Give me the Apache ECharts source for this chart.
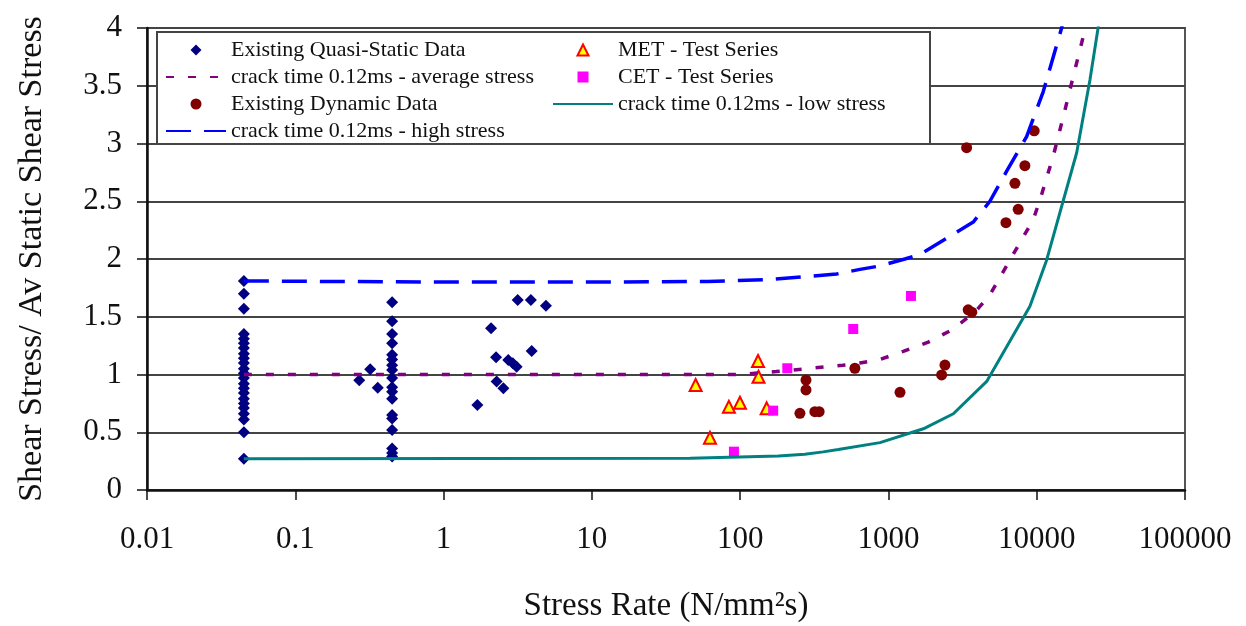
<!DOCTYPE html>
<html>
<head>
<meta charset="utf-8">
<title>Shear stress vs stress rate</title>
<script src="https://cdn.jsdelivr.net/npm/echarts@6/dist/echarts.min.js"></script>
<style>
  html, body { margin: 0; padding: 0; background: #fff; }
  #chart { width: 1246px; height: 626px; }
</style>
</head>
<body>
<div id="chart"></div>
<script>
// Stress rate (N/mm²s) vs normalised shear stress
const xTickLabels = ['0.01', '0.1', '1', '10', '100', '1000', '10000', '100000'];
const yTicks = [0, 0.5, 1, 1.5, 2, 2.5, 3, 3.5, 4];

const quasiStatic = [
  [0.045, 1.81], [0.045, 1.70], [0.045, 1.57], [0.045, 1.35], [0.045, 1.31],
  [0.045, 1.27], [0.045, 1.23], [0.045, 1.18], [0.045, 1.14], [0.045, 1.10],
  [0.045, 1.05], [0.045, 1.01], [0.045, 0.97], [0.045, 0.92], [0.045, 0.88],
  [0.045, 0.84], [0.045, 0.79], [0.045, 0.75], [0.045, 0.71], [0.045, 0.66],
  [0.045, 0.61], [0.045, 0.50], [0.045, 0.27],
  [0.45, 1.625], [0.45, 1.46], [0.45, 1.35], [0.45, 1.27], [0.45, 1.17],
  [0.45, 1.13], [0.45, 1.08], [0.45, 1.04], [0.45, 0.97], [0.45, 0.89],
  [0.45, 0.85], [0.45, 0.79], [0.45, 0.65], [0.45, 0.62], [0.45, 0.52],
  [0.45, 0.36], [0.45, 0.32], [0.45, 0.29],
  [0.27, 0.95], [0.32, 1.045], [0.36, 0.886],
  [1.69, 0.736], [2.09, 1.40], [2.26, 1.149], [2.28, 0.94], [2.53, 0.88],
  [2.73, 1.125], [2.93, 1.097], [3.11, 1.068], [3.16, 1.645], [3.88, 1.645],
  [3.93, 1.203], [4.9, 1.596]
];

const averageStress = [
  [0.045, 1.0], [10, 1.0], [100, 1.0], [175, 1.025], [280, 1.05], [492, 1.08],
  [643, 1.10], [877, 1.13], [1259, 1.20], [1855, 1.28], [2670, 1.385],
  [3830, 1.54], [4835, 1.69], [6590, 1.99], [9470, 2.34], [10510, 2.51],
  [12920, 2.89], [15100, 3.23], [17630, 3.58], [20090, 3.87], [21700, 4.05]
];

const dynamicData = [
  [253, 0.664], [278, 0.952], [278, 0.866], [319, 0.678], [341, 0.678],
  [594, 1.054], [1197, 0.846], [2285, 0.996], [2405, 1.082], [3450, 1.56],
  [3650, 1.54], [3367, 2.964], [6200, 2.314], [7130, 2.655], [7500, 2.43],
  [8320, 2.808], [9620, 3.11]
];

const highStress = [
  [0.045, 1.81], [1, 1.80], [10, 1.80], [60, 1.805], [167, 1.824], [447, 1.87],
  [643, 1.91], [877, 1.94], [1291, 2.0], [1632, 2.04], [3733, 2.32],
  [4835, 2.50], [6270, 2.76], [8550, 3.06], [11070, 3.45], [14720, 4.0],
  [15300, 4.1]
];

const metSeries = [
  [50.1, 0.909], [62.6, 0.453], [84, 0.72], [99.7, 0.756], [132, 1.117],
  [133, 0.981], [151, 0.707]
];

const cetSeries = [
  [90.8, 0.332], [167, 0.687], [208, 1.054], [579, 1.394], [1419, 1.68]
];

const lowStress = [
  [0.045, 0.27], [46, 0.275], [181, 0.294], [273, 0.31], [363, 0.33],
  [459, 0.35], [877, 0.41], [1720, 0.53], [2740, 0.66], [4600, 0.94],
  [9000, 1.59], [11660, 1.99], [18600, 2.92], [22850, 3.55], [26300, 4.05]
];

const NAMES = {
  quasi: 'Existing Quasi-Static Data',
  avg: 'crack time 0.12ms - average stress',
  dyn: 'Existing Dynamic Data',
  high: 'crack time 0.12ms - high stress',
  met: 'MET - Test Series',
  cet: 'CET - Test Series',
  low: 'crack time 0.12ms - low stress'
};

// Legend glyphs drawn as paths so they keep their aspect inside the wide legend slot
const ICONS = {
  diamond: 'path://M5,0L10,5L5,10L0,5Z',
  circle: 'path://M5,0A5,5,0,1,1,4.99,0Z',
  triangle: 'path://M5,0L10,10L0,10Z',
  square: 'path://M0,0H10V10H0Z'
};
const hideMarker = { opacity: 0 };

const FONT = '"Liberation Serif", "Times New Roman", serif';
const chart = echarts.init(document.getElementById('chart'), null, { renderer: 'canvas' });

const legendCommon = {
  orient: 'vertical',
  top: 39,
  padding: 0,
  itemWidth: 60,
  itemHeight: 11,
  itemGap: 5,
  symbolKeepAspect: true,
  textStyle: { fontFamily: FONT, fontSize: 22, color: '#111', lineHeight: 22 },
  selectedMode: false
};

chart.setOption({
  animation: false,
  backgroundColor: '#fff',
  grid: {
    left: 147, right: 61, top: 28, bottom: 136,
    outerBoundsMode: 'none',
    containLabel: false,
    show: true, borderColor: '#555', borderWidth: 2
  },
  graphic: [{
    type: 'rect',
    z: 3,
    shape: { x: 157, y: 32, width: 773, height: 112 },
    style: { fill: '#fff', stroke: '#444', lineWidth: 2 }
  }],
  legend: [
    Object.assign({
      left: 165,
      data: [
        { name: NAMES.quasi, icon: ICONS.diamond },
        { name: NAMES.avg, itemStyle: hideMarker },
        { name: NAMES.dyn, icon: ICONS.circle },
        { name: NAMES.high, itemStyle: hideMarker }
      ]
    }, legendCommon),
    Object.assign({
      left: 552,
      data: [
        { name: NAMES.met, icon: ICONS.triangle },
        { name: NAMES.cet, icon: ICONS.square },
        { name: NAMES.low, itemStyle: hideMarker }
      ]
    }, legendCommon)
  ],
  xAxis: {
    type: 'log',
    logBase: 10,
    min: 0.01,
    max: 100000,
    name: 'Stress Rate (N/mm²s)',
    nameLocation: 'middle',
    nameGap: 100,
    nameTextStyle: { fontFamily: FONT, fontSize: 33, color: '#111' },
    axisLine: { onZero: false, lineStyle: { color: '#111', width: 2.5 } },
    axisTick: { show: true, length: 10, lineStyle: { color: '#111', width: 1.5 } },
    axisLabel: {
      margin: 34,
      fontFamily: FONT, fontSize: 31, color: '#111',
      formatter: function (v, i) { return xTickLabels[i] !== undefined ? xTickLabels[i] : String(v); }
    },
    splitLine: { show: false },
    minorTick: { show: false }
  },
  yAxis: {
    type: 'value',
    min: yTicks[0],
    max: yTicks[yTicks.length - 1],
    interval: 0.5,
    name: 'Shear Stress/ Av Static Shear Stress',
    nameLocation: 'middle',
    nameGap: 98,
    nameTextStyle: { fontFamily: FONT, fontSize: 34, color: '#111' },
    axisLine: { show: true, lineStyle: { color: '#111', width: 2.5 } },
    axisTick: { show: true, length: 10, lineStyle: { color: '#111', width: 1.5 } },
    axisLabel: {
      margin: 25,
      fontFamily: FONT, fontSize: 31, color: '#111',
      formatter: function (v) { return String(v); }
    },
    splitLine: { show: true, lineStyle: { color: '#444', width: 2 } }
  },
  series: [
    {
      name: NAMES.avg, type: 'line', data: averageStress, symbol: 'none',
      lineStyle: { color: '#800080', width: 3.5, type: [8, 14] },
      itemStyle: { color: '#800080' }
    },
    {
      name: NAMES.high, type: 'line', data: highStress, symbol: 'none',
      lineStyle: { color: '#0000ff', width: 3.5, type: [25, 13] },
      itemStyle: { color: '#0000ff' }
    },
    {
      name: NAMES.low, type: 'line', data: lowStress, symbol: 'none',
      lineStyle: { color: '#008080', width: 3 },
      itemStyle: { color: '#008080' }
    },
    {
      name: NAMES.quasi, type: 'scatter', data: quasiStatic,
      symbol: 'diamond', symbolSize: 12,
      itemStyle: { color: '#000080', opacity: 1 }
    },
    {
      name: NAMES.dyn, type: 'scatter', data: dynamicData,
      symbol: 'circle', symbolSize: 11,
      itemStyle: { color: '#800000', opacity: 1 }
    },
    {
      name: NAMES.met, type: 'scatter', data: metSeries,
      symbol: 'triangle', symbolSize: 12,
      itemStyle: { color: '#ffff00', borderColor: '#ff0000', borderWidth: 2, opacity: 1 }
    },
    {
      name: NAMES.cet, type: 'scatter', data: cetSeries,
      symbol: 'rect', symbolSize: 10,
      itemStyle: { color: '#ff00ff', opacity: 1 }
    }
  ]
});
</script>
</body>
</html>
